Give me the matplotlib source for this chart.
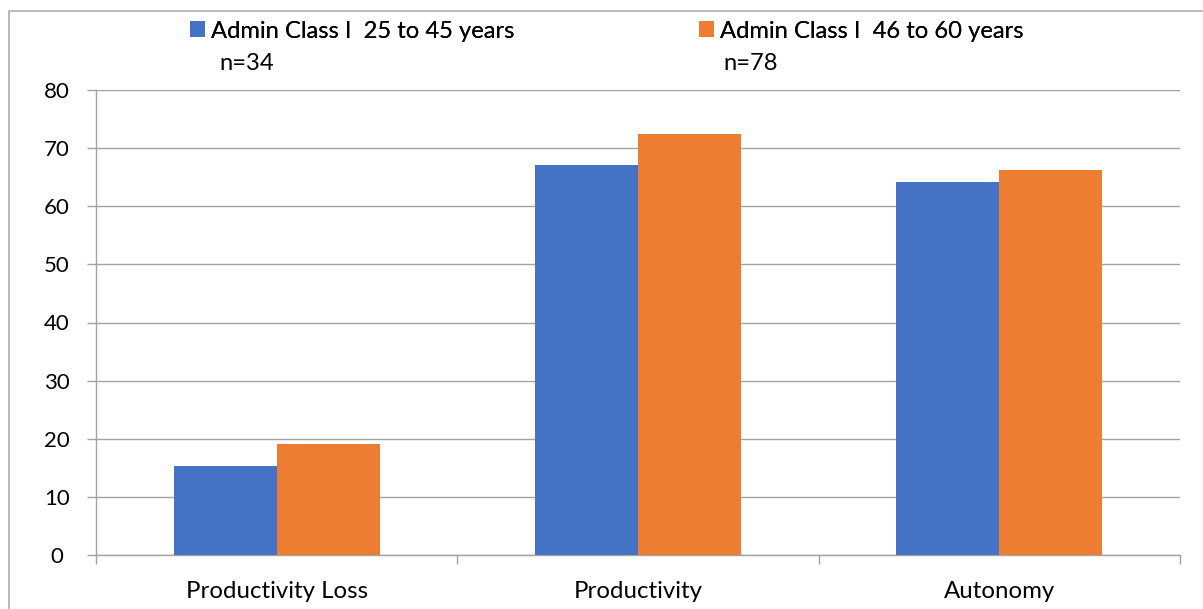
import matplotlib
matplotlib.use("Agg")
import matplotlib.pyplot as plt
from matplotlib.patches import Rectangle
import numpy as np

categories = ["Productivity Loss", "Productivity", "Autonomy"]
series_names = ["Admin Class I  25 to 45 years", "Admin Class I  46 to 60 years"]
sample_sizes = ["n=34", "n=78"]
young_values = [15.3, 67.1, 64.1]
older_values = [19.1, 72.5, 66.3]
y_ticks = [0, 10, 20, 30, 40, 50, 60, 70, 80]

BLUE = "#4472C4"
ORANGE = "#ED7D31"
GRID = "#A2A2A2"
TEXT = "#000000"

plt.rcParams["font.family"] = ["Lato", "DejaVu Sans"]

W, H = 1203, 609
fig = plt.figure(figsize=(W / 100, H / 100), dpi=100)

# plot area in pixel terms
left, right, bottom, top = 96, 1180, 555, 90
ax = fig.add_axes([left / W, (H - bottom) / H, (right - left) / W, (bottom - top) / H])

x = np.arange(len(categories))
bw = 0.2853
bars_y = ax.bar(x - bw / 2, young_values, width=bw, color=BLUE, zorder=3)
bars_o = ax.bar(x + bw / 2, older_values, width=bw, color=ORANGE, zorder=3)

ax.set_xlim(-0.5, len(categories) - 0.5)
ax.set_ylim(0, 80)
ax.set_yticks(y_ticks)
ax.yaxis.grid(True, color=GRID, linewidth=1.0, zorder=0)
ax.set_axisbelow(True)

for s in ("top", "right"):
    ax.spines[s].set_visible(False)
for s in ("left", "bottom"):
    ax.spines[s].set_color(GRID)
    ax.spines[s].set_linewidth(1.0)

# category boundaries carry the tick marks, centers carry the labels
ax.set_xticks(np.arange(len(categories) + 1) - 0.5)
ax.set_xticklabels([])
ax.set_xticks(x, minor=True)
ax.set_xticklabels(categories, minor=True)
ax.tick_params(axis="x", which="major", length=6.5, color=GRID, width=1.0)
ax.tick_params(axis="x", which="minor", length=0, pad=18.7, labelsize=17.3, labelcolor=TEXT)
ax.tick_params(axis="y", length=6.5, color=GRID, width=1.0, pad=21.5,
               labelsize=16, labelcolor=TEXT)
for lab in ax.get_yticklabels():
    lab.set_horizontalalignment("center")

# one legend entry per series, each followed by its sample size underneath
legend_x = [190, 699]
n_x = [219, 723]
for bars, name, lx, nx, n in zip((bars_y, bars_o), series_names, legend_x, n_x, sample_sizes):
    leg = fig.legend([bars], [name], loc="center left",
                     bbox_to_anchor=(lx / W, 1 - 31 / H),
                     frameon=False, fontsize=17.1,
                     handlelength=0.64, handleheight=0.64, handletextpad=0.24,
                     borderpad=0, borderaxespad=0)
    fig.add_artist(leg)
    fig.text(nx / W, 1 - 70 / H, n, fontsize=17.1, color=TEXT,
             ha="left", va="baseline")

# outer chart frame
fig.patches.append(Rectangle((9 / W, -0.05), 1.1, 1 - 11 / H + 0.05,
                             transform=fig.transFigure, fill=False,
                             edgecolor="#A6A6A6", linewidth=1.1))

fig.savefig("out.png", dpi=100)
